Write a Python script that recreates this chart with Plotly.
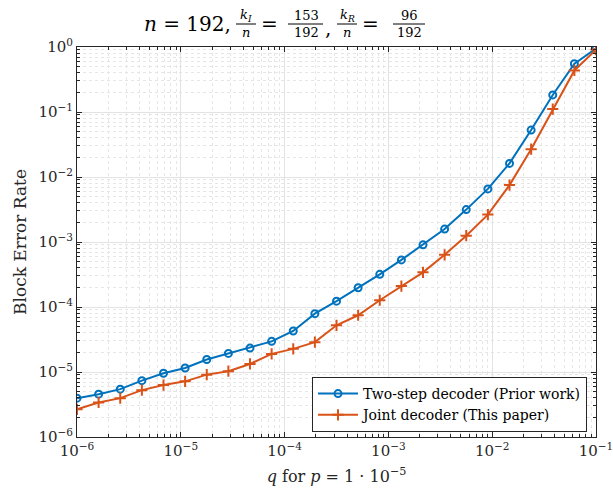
import plotly.graph_objects as go

# ---- data ----
q = [10 ** (-6 + 5 * i / 24) for i in range(25)]
two_step = [3.96e-6, 4.56e-6, 5.45e-6, 7.36e-6, 9.55e-6, 1.15e-5, 1.56e-5, 1.93e-5,
            2.33e-5, 2.96e-5, 4.27e-5, 7.9e-5, 1.23e-4, 1.98e-4, 3.18e-4, 5.30e-4,
            9.05e-4, 1.58e-3, 3.15e-3, 6.56e-3, 1.62e-2, 5.27e-2, 0.183, 0.553, 0.945]
joint = [2.67e-6, 3.40e-6, 3.96e-6, 5.26e-6, 6.29e-6, 7.18e-6, 9.11e-6, 1.03e-5,
         1.33e-5, 1.90e-5, 2.27e-5, 2.88e-5, 5.23e-5, 7.46e-5, 1.27e-4, 2.10e-4,
         3.41e-4, 6.34e-4, 1.25e-3, 2.64e-3, 7.50e-3, 2.68e-2, 0.111, 0.436, 0.912]
x_exps = [-6, -5, -4, -3, -2, -1]
y_exps = [-6, -5, -4, -3, -2, -1, 0]
series_names = ["Two-step decoder (Prior work)", "Joint decoder (This paper)"]

FONT = "DejaVu Serif"
BLUE = "#0072BD"
ORANGE = "#D95319"
W, H = 613, 493
L, R, T, B = 77, 17, 47, 56
PW, PH = W - L - R, H - T - B


def X(px):
    return (px - L) / PW


def Y(py):
    return (H - B - py) / PH


def minor_vals(exps):
    out = []
    for e in exps[:-1]:
        for k in range(2, 10):
            out.append(k * 10 ** e)
    return out


fig = go.Figure()
fig.add_trace(go.Scatter(
    x=q, y=two_step, mode="lines+markers", name=series_names[0],
    line=dict(color=BLUE, width=2),
    marker=dict(symbol="circle-open", size=7, color=BLUE, line=dict(width=2)),
))
fig.add_trace(go.Scatter(
    x=q, y=joint, mode="lines+markers", name=series_names[1],
    line=dict(color=ORANGE, width=2),
    marker=dict(symbol="cross-thin-open", size=8, color=ORANGE, line=dict(width=2, color=ORANGE)),
))

axis_common = dict(
    type="log", showline=True, linecolor="#262626", linewidth=1, mirror="allticks",
    ticks="inside", ticklen=5, tickcolor="#262626", showgrid=True, gridcolor="#e3e3e3",
    gridwidth=1, zeroline=False, automargin=False, ticklabeloverflow="allow",
    tickfont=dict(family=FONT, size=15, color="#262626"),
)

fig.update_xaxes(
    **axis_common,
    range=[-6, -1],
    tickvals=[10 ** e for e in x_exps],
    ticktext=["10<sup>\u2212%d</sup>" % (-e) for e in x_exps],
    minor=dict(tickvals=minor_vals(x_exps), ticks="inside", ticklen=3, tickcolor="#262626",
               showgrid=True, gridcolor="#e6e6e6", griddash="dot", gridwidth=1),
    title=dict(text="<i>q</i> for <i>p</i> = 1 \u00b7 10<sup>\u22125</sup>",
               font=dict(family=FONT, size=16, color="#262626"), standoff=11),
)
fig.update_yaxes(
    **axis_common,
    range=[-6, 0],
    tickvals=[10 ** e for e in y_exps],
    ticktext=[("10<sup>0</sup>" if e == 0 else "10<sup>\u2212%d</sup>" % (-e)) for e in y_exps],
    minor=dict(tickvals=minor_vals(y_exps), ticks="inside", ticklen=3, tickcolor="#262626",
               showgrid=True, gridcolor="#e6e6e6", griddash="dot", gridwidth=1),
    title=dict(text="Block Error Rate", font=dict(family=FONT, size=17, color="#262626"),
               standoff=7),
)

# ---- title built from pieces (fractions stacked) ----
ann = []
shapes = []
tc = "#000000"


def txt(s, cx, cy, size):
    ann.append(dict(text=s, x=X(cx), y=Y(cy), xref="paper", yref="paper",
                    xanchor="center", yanchor="middle", showarrow=False,
                    font=dict(family=FONT, size=size, color=tc)))


def frac(num, den, cx, x0, x1):
    txt(num, cx, 15, 13)
    txt(den, cx, 33, 13)
    shapes.append(dict(type="line", xref="paper", yref="paper", x0=X(x0), x1=X(x1),
                       y0=Y(24), y1=Y(24), line=dict(color=tc, width=1)))


txt("<i>n</i> = 192,", 187, 24, 20)
frac("<i>k<sub>I</sub></i>", "<i>n</i>", 246, 236, 256)
txt("=", 269, 24, 20)
frac("153", "192", 306, 288, 323)
txt(",", 328, 28, 20)
frac("<i>k<sub>R</sub></i>", "<i>n</i>", 347, 337, 357)
txt("=", 370, 24, 20)
frac("96", "192", 409, 393, 425)

fig.update_layout(
    width=W, height=H, margin=dict(l=L, r=R, t=T, b=B, autoexpand=False),
    plot_bgcolor="white", paper_bgcolor="white",
    annotations=ann, shapes=shapes,
    legend=dict(x=X(587), y=Y(432), xanchor="right", yanchor="bottom",
                bgcolor="white", bordercolor="#262626", borderwidth=1,
                font=dict(family=FONT, size=14, color="#000000"),
                tracegroupgap=0, itemwidth=40),
    showlegend=True,
)

fig.write_html("out.html", config={"displayModeBar": False},
               post_script="document.body.style.margin='0px';")
